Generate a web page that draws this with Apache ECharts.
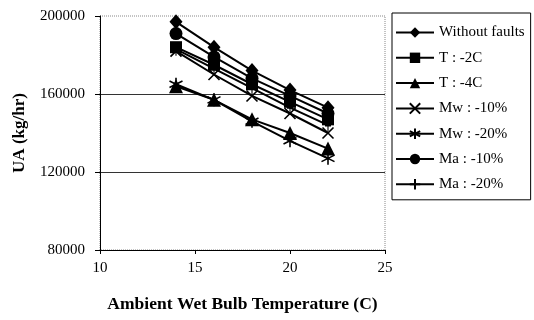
<!DOCTYPE html>
<html><head><meta charset="utf-8">
<script src="https://cdn.jsdelivr.net/npm/echarts@6/dist/echarts.min.js"></script>
<style>html,body{margin:0;padding:0;background:#fff}#c{width:534px;height:320px}</style>
</head><body><div id="c"></div>
<script>
const temps = [14, 16, 18, 20, 22];
const seriesNames = ['Without faults', 'T : -2C', 'T : -4C', 'Mw : -10%', 'Mw : -20%', 'Ma : -10%', 'Ma : -20%'];
const withoutFaults = [197000, 184000, 172000, 162000, 153000];
const t2C = [184000, 175000, 165000, 156000, 147000];
const t4C = [164000, 157000, 147000, 140000, 132000];
const mw10 = [182000, 170000, 159000, 150000, 140000];
const mw20 = [165000, 157000, 146000, 136000, 127000];
const ma10 = [191000, 179000, 168000, 159000, 150000];
const ma20 = [183000, 173000, 163000, 153000, 144000];
const xTicks = [10, 15, 20, 25];
const yTicks = [80000, 120000, 160000, 200000];

const values = [withoutFaults, t2C, t4C, mw10, mw20, ma10, ma20];
const symbols = [
  ['diamond', [13, 15]],
  ['rect', 12],
  ['triangle', 14],
  ['path://M0,0L10,10M10,0L0,10', 11],
  ['path://M5,0L5,10M0.7,2.5L9.3,7.5M9.3,2.5L0.7,7.5', 13],
  ['circle', 13],
  ['path://M5,0L5,10M0,5L10,5', [6, 13]]
];
const serif = 'Liberation Serif, Times New Roman, serif';

const chart = echarts.init(document.getElementById('c'), null, {renderer: 'canvas'});
chart.setOption({
  animation: false,
  backgroundColor: '#fff',
  grid: {left: 100, top: 16, right: 149, bottom: 70, show: true, borderColor: '#888', borderWidth: 1, borderType: 'dotted'},
  legend: {
    orient: 'vertical', left: 392, top: 13,
    padding: [12, 6, 8, 3],
    itemWidth: 38, itemHeight: 13, itemGap: 10.3,
    borderColor: '#000', borderWidth: 1,
    textStyle: {fontFamily: serif, fontSize: 15, color: '#000'},
    data: seriesNames
  },
  xAxis: {
    type: 'value', min: xTicks[0], max: xTicks[xTicks.length - 1], interval: 5,
    name: 'Ambient Wet Bulb Temperature (C)', nameLocation: 'middle', nameGap: 45,
    nameTextStyle: {fontFamily: serif, fontSize: 17.5, fontWeight: 'bold', color: '#000'},
    axisLine: {lineStyle: {color: '#000', width: 1}},
    axisTick: {show: true, length: 4, lineStyle: {color: '#000'}},
    axisLabel: {fontFamily: serif, fontSize: 15, color: '#000', margin: 11},
    splitLine: {show: false}
  },
  yAxis: {
    type: 'value', min: yTicks[0], max: yTicks[yTicks.length - 1], interval: 40000,
    name: 'UA (kg/hr)', nameLocation: 'middle', nameGap: 72, nameRotate: 90,
    nameTextStyle: {fontFamily: serif, fontSize: 17, fontWeight: 'bold', color: '#000'},
    axisLine: {show: true, lineStyle: {color: '#000', width: 1}},
    axisTick: {show: true, length: 5, lineStyle: {color: '#000'}},
    axisLabel: {fontFamily: serif, fontSize: 15, color: '#000', margin: 15, formatter: v => String(v)},
    splitLine: {show: true, lineStyle: {color: ['#000', '#333', '#333', 'rgba(0,0,0,0)'], width: 1}}
  },
  series: seriesNames.map((n, i) => ({
    name: n, type: 'line',
    data: temps.map((t, j) => [t, values[i][j]]),
    symbol: symbols[i][0], symbolSize: symbols[i][1],
    showAllSymbol: true,
    lineStyle: {color: '#000', width: 2},
    itemStyle: {color: '#000', borderColor: '#000', borderWidth: (i === 3 || i === 4 || i === 6) ? 1.6 : 0},
    z: 3
  }))
});
</script></body></html>
